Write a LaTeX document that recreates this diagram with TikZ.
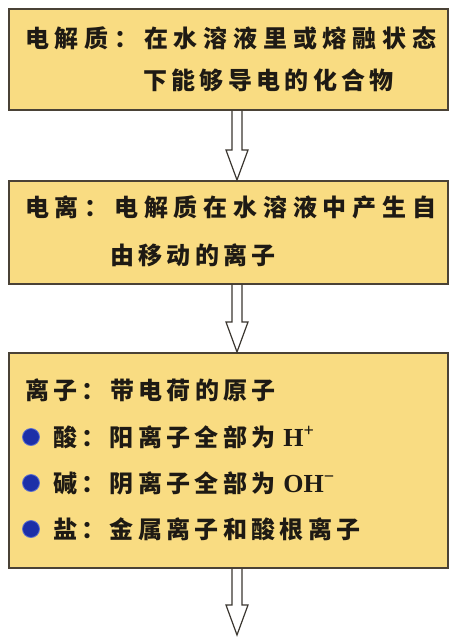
\documentclass[tikz,border=0pt]{standalone}
\usepackage{fontspec}
\setmainfont{Liberation Serif}
\newfontfamily\cjk{Noto Sans CJK SC}
\newfontfamily\tms{Liberation Serif}
\usetikzlibrary{calc}
\definecolor{boxfill}{HTML}{F9DC82}
\definecolor{boxline}{HTML}{4A4236}
\definecolor{txt}{HTML}{1E1A14}
\definecolor{dotblue}{HTML}{1C2FA8}
\definecolor{dotrim}{HTML}{5B6FD0}
\definecolor{arrowcol}{HTML}{3A3630}
\tikzset{
  box/.style={draw=boxline, line width=1.6pt, fill=boxfill, inner sep=0pt,
    anchor=north west, minimum width=439pt},
  widetxt/.style={anchor=base west, inner sep=0pt, text=txt,
    font=\cjk\bfseries\fontsize{24}{24}\selectfont\addfontfeature{LetterSpace=24}},
  normtxt/.style={anchor=base west, inner sep=0pt, text=txt,
    font=\cjk\bfseries\fontsize{24}{24}\selectfont\addfontfeature{LetterSpace=18}},
  dot/.style={circle, fill=dotblue, draw=dotrim, line width=0.8pt,
    minimum size=17pt, inner sep=0pt},
  arrowshape/.style={draw=arrowcol, line width=1.2pt, line join=miter}
}
\newcommand\hollowarrow[2]{%
  \draw[arrowshape] ($(#1)+(-5,0)$) -- ($(#2)+(-5,-30)$) -- ($(#2)+(-11,-30)$)
    -- (#2) -- ($(#2)+(11,-30)$) -- ($(#2)+(5,-30)$) -- ($(#1)+(5,0)$);}
\newcommand\lat[1]{{\tms\fontsize{26}{26}\selectfont #1}}
\begin{document}
\begin{tikzpicture}[x=1pt, y=-1pt]
\useasboundingbox (0,0) rectangle (449,637);

% boxes
\node[box, minimum height=101pt] (b1) at (8,8) {};
\node[box, minimum height=103pt] (b2) at (8,180) {};
\node[box, minimum height=215pt] (b3) at (8,352) {};

% box 1 text
\node[widetxt] (t11) at (25,47) {电解质：在水溶液里或熔融状态};
\node[normtxt] (t12) at (143,89) {下能够导电的化合物};

% box 2 text
\node[widetxt] (t21) at (25,216) {电离：电解质在水溶液中产生自};
\node[normtxt] (t22) at (110,264) {由移动的离子};

% box 3 text
\node[normtxt] (t31) at (25,399) {离子：带电荷的原子};
\node[dot] (d1) at (31,437) {};
\node[normtxt] (t32) at (53,446) {酸：阳离子全部为\kern8pt\lat{H\textsuperscript{+}}};
\node[dot] (d2) at (31,483) {};
\node[normtxt] (t33) at (53,492) {碱：阴离子全部为\kern8pt\lat{OH\textsuperscript{−}}};
\node[dot] (d3) at (31,529) {};
\node[normtxt] (t34) at (53,538) {盐：金属离子和酸根离子};

% arrows
\coordinate (ax) at (237,0);
\coordinate (end) at (237,635);
\hollowarrow{b1.south -| ax}{b2.north -| ax}
\hollowarrow{b2.south -| ax}{b3.north -| ax}
\hollowarrow{b3.south -| ax}{end}
\end{tikzpicture}
\end{document}
